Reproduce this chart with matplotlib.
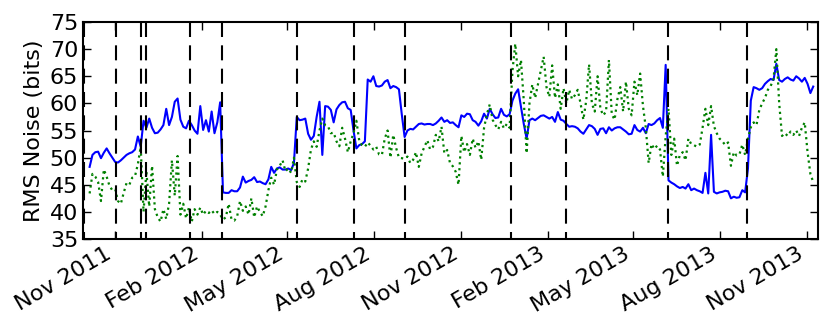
# RMS noise over time, two channels, with event markers
import pandas as pd
import matplotlib.pyplot as plt
import matplotlib.dates as mdates

# sampling: one value every 3 days starting 2011-10-05
start_date = "2011-10-05"
step = "3D"

# blue channel (bits)
noise_blue = [
    48.3, 50.5, 51.0, 51.1, 49.9, 50.9, 51.7, 50.8, 50.0, 49.2,
    49.1, 49.5, 50.0, 50.5, 50.8, 51.0, 51.5, 53.9, 52.0, 56.8,
    55.5, 57.2, 55.5, 54.5, 54.6, 55.2, 56.0, 59.0, 56.0, 57.5,
    60.3, 60.9, 57.0, 55.7, 55.4, 56.8, 56.0, 55.0, 54.4, 59.5,
    55.1, 56.9, 54.8, 58.5, 54.5, 56.5, 60.2, 43.6, 43.5, 43.5,
    44.0, 43.8, 43.8, 44.5, 46.5, 45.4, 45.7, 45.9, 46.4, 45.5,
    45.6, 45.3, 45.1, 46.0, 48.3, 47.2, 48.0, 48.2, 47.8, 47.8,
    48.0, 47.7, 49.0, 57.5, 56.9, 57.0, 57.2, 54.4, 53.3, 54.0,
    57.5, 60.3, 50.5, 59.5, 59.4, 58.8, 56.5, 58.9, 59.7, 60.2,
    60.3, 59.1, 58.8, 55.0, 51.7, 52.3, 52.5, 53.0, 64.4, 64.0,
    65.0, 63.2, 63.1, 63.3, 64.0, 64.3, 62.8, 63.2, 63.0, 62.6,
    58.0, 53.8, 55.0, 55.3, 55.2, 55.7, 56.2, 56.3, 56.1, 56.2,
    56.2, 56.0, 56.3, 56.8, 57.4, 56.6, 56.9, 56.4, 56.5, 56.0,
    55.6, 57.8, 57.5, 58.1, 58.0, 56.9, 56.6, 55.9, 56.7, 58.1,
    57.2, 59.0, 58.0, 57.3, 57.4, 59.0, 57.9, 57.6, 58.0, 60.5,
    61.8, 62.6, 59.4, 56.2, 53.5, 56.9, 57.2, 56.9, 57.3, 57.7,
    57.8, 57.5, 57.2, 57.5, 56.6, 58.4, 57.0, 56.8, 56.2, 55.7,
    55.8, 55.7, 55.4, 54.8, 54.4, 55.2, 56.0, 55.8, 55.3, 54.2,
    55.3, 55.4, 54.5, 55.6, 55.0, 55.4, 55.6, 55.6, 55.2, 54.8,
    54.3, 54.4, 56.0, 55.1, 54.8, 55.5, 54.5, 56.2, 56.0, 56.3,
    56.9, 57.3, 55.5, 67.1, 45.8, 45.4, 45.1, 44.7, 44.4, 44.6,
    44.3, 45.1, 44.0, 44.3, 44.0, 43.8, 43.5, 47.2, 43.4, 54.2,
    43.7, 43.4, 43.6, 43.7, 43.9, 43.8, 42.5, 42.8, 42.6, 42.7,
    44.0, 43.6, 48.0, 60.5, 63.0, 62.8, 62.5, 62.8, 63.6, 64.1,
    64.5, 64.3, 67.3, 64.3, 64.0, 64.5, 64.8, 64.4, 64.2, 65.0,
    64.6, 64.0, 64.7, 63.6, 61.9, 63.1,
]

# green channel (bits)
noise_green = [
    43.4, 47.0, 46.5, 45.5, 42.0, 47.8, 46.5, 44.8, 44.0, 44.2,
    42.0, 41.5, 43.5, 45.3, 45.0, 46.3, 46.6, 48.8, 52.0, 40.0,
    47.5, 41.0, 48.5, 40.5, 39.0, 38.2, 40.5, 38.7, 41.5, 49.5,
    43.0, 50.3, 39.5, 41.5, 38.8, 40.8, 38.2, 40.5, 39.5, 40.8,
    39.5, 40.2, 39.8, 40.3, 39.6, 40.0, 39.5, 38.6, 39.0, 41.5,
    38.6, 38.4, 39.2, 42.0, 40.2, 41.0, 39.5, 42.5, 39.0, 41.0,
    40.0, 39.2, 41.0, 44.0, 46.3, 45.0, 47.8, 48.5, 49.5, 47.5,
    48.0, 47.2, 50.0, 45.5, 44.6, 46.0, 45.6, 48.0, 51.5, 53.0,
    52.0, 55.0, 57.2, 56.0, 55.8, 54.5, 54.6, 53.0, 52.1, 55.5,
    53.5, 51.0, 53.0, 54.5, 56.8, 53.2, 52.3, 52.0, 52.8, 52.2,
    51.5, 52.0, 50.6, 50.5, 53.5, 55.0, 50.0, 54.2, 51.8, 50.0,
    49.9, 49.8, 50.2, 49.0, 49.6, 51.0, 48.3, 50.8, 52.0, 53.2,
    51.5, 52.0, 54.2, 53.0, 55.7, 50.8, 51.4, 49.0, 48.4, 47.4,
    45.0, 54.0, 51.0, 52.5, 50.5, 53.5, 51.8, 53.0, 49.6, 55.5,
    58.0, 59.8, 57.0, 56.0, 55.2, 56.6, 55.4, 56.2, 55.5, 66.0,
    71.0, 65.0, 68.0, 60.5, 50.8, 60.0, 63.5, 61.0, 63.5, 66.0,
    68.6, 63.0, 61.2, 67.0, 61.0, 63.5, 59.0, 62.8, 60.0, 62.5,
    60.8, 61.5, 62.5, 60.0, 57.0, 60.5, 67.2, 60.0, 58.5, 65.0,
    59.0, 57.8, 58.5, 68.0, 58.0, 57.0, 60.8, 63.0, 58.5, 64.0,
    59.0, 57.8, 64.0, 61.5, 65.5, 59.5, 55.5, 49.0, 52.5, 51.6,
    52.2, 51.5, 46.5, 54.0, 59.0, 50.5, 53.5, 48.5, 50.5, 51.0,
    49.5, 53.5, 52.5, 52.3, 52.0, 52.4, 55.5, 59.0, 56.0, 59.5,
    55.8, 54.5, 53.5, 53.0, 52.3, 52.8, 48.5, 51.0, 50.4, 50.6,
    52.4, 50.5, 53.5, 55.6, 56.5, 56.0, 58.8, 60.0, 61.0, 62.5,
    63.2, 64.5, 70.0, 60.0, 54.0, 54.5, 54.0, 54.8, 54.2, 55.0,
    54.0, 55.5, 56.5, 51.0, 47.0, 45.5,
]

# dates of the events (dashed lines)
event_dates = [
    "2011-09-29", "2011-11-02", "2011-11-28", "2011-12-04", "2012-01-19",
    "2012-02-22", "2012-05-11", "2012-07-11", "2012-09-02", "2012-12-24",
    "2013-02-20", "2013-06-07", "2013-08-30",
]

dates = pd.date_range(start_date, periods=len(noise_blue), freq=step)
events = pd.to_datetime(event_dates)

fig = plt.figure(figsize=(8.3, 3.34), dpi=100)
ax = fig.add_axes([0.1, 0.2844, 0.8855, 0.6497])

ax.plot(dates, noise_blue, color="#0000ff", linewidth=1.5, zorder=2)
ax.plot(dates, noise_green, color="#008000", linestyle=":", linewidth=1.6, zorder=3)

# event markers, dashes start from the top
for d in events:
    ax.plot([d, d], [75, 35], color="black", linewidth=1.5,
            dashes=(7.2, 4.0), zorder=4)

ax.set_ylim(35, 75)
ax.set_yticks(range(35, 76, 5))
ax.set_xlim(pd.Timestamp("2011-09-28"), pd.Timestamp("2013-11-13"))

ax.xaxis.set_major_locator(mdates.MonthLocator(bymonth=[2, 5, 8, 11]))
ax.xaxis.set_major_formatter(mdates.DateFormatter("%b %Y"))
for lbl in ax.get_xticklabels():
    lbl.set_rotation(30)
    lbl.set_horizontalalignment("right")

ax.tick_params(direction="in", top=True, right=True, length=6, width=1,
               labelsize=16)
for sp in ax.spines.values():
    sp.set_linewidth(1.5)

ax.set_ylabel("RMS Noise (bits)", fontsize=16)

fig.savefig("out.png")
